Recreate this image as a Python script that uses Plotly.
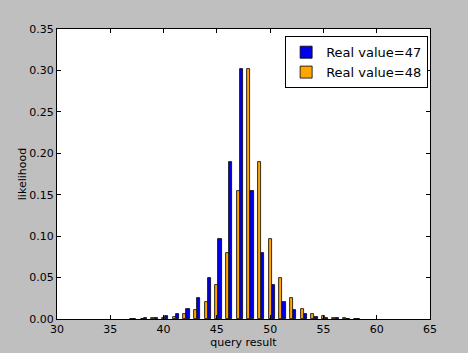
import plotly.graph_objects as go

values = list(range(37, 59))
p47 = [0.0006, 0.001, 0.0018, 0.0034, 0.0064, 0.0125, 0.0255, 0.050, 0.097, 0.189, 0.302,
       0.1545, 0.080, 0.041, 0.021, 0.0113, 0.0056, 0.0029, 0.0015, 0.0008, 0.0004, 0.0002]
p48 = [0.0002, 0.0004, 0.0008, 0.0015, 0.0029, 0.0056, 0.0113, 0.021, 0.041, 0.080, 0.1545,
       0.302, 0.189, 0.097, 0.050, 0.0255, 0.0125, 0.0064, 0.0034, 0.0018, 0.001, 0.0006]
x_ticks = [30, 35, 40, 45, 50, 55, 60, 65]
y_ticks = [0.0, 0.05, 0.10, 0.15, 0.20, 0.25, 0.30, 0.35]

fig = go.Figure()
fig.add_trace(go.Bar(x=values, y=p47, width=0.3, offset=0.15, name="Real value=47",
                     marker=dict(color="#0000ee", line=dict(color="black", width=0.8))))
fig.add_trace(go.Bar(x=values, y=p48, width=0.3, offset=-0.15, name="Real value=48",
                     marker=dict(color="#ffa500", line=dict(color="black", width=0.8))))

axis_common = dict(showgrid=False, zeroline=False, showline=True, linecolor="black", linewidth=1,
                   mirror="ticks", ticks="inside", ticklen=4, tickcolor="black", automargin=False,
                   tickfont=dict(size=11, color="black"))
fig.update_layout(
    width=468, height=353,
    margin=dict(l=57, r=38, t=29, b=34),
    paper_bgcolor="#bfbfbf", plot_bgcolor="white",
    font=dict(family="DejaVu Sans", color="black"),
    barmode="overlay", bargap=0,
    xaxis=dict(range=[30, 65], tickvals=x_ticks, ticktext=[str(t) for t in x_ticks],
               title=dict(text="query result", font=dict(size=11), standoff=1), **axis_common),
    yaxis=dict(range=[0, 0.35], tickvals=y_ticks, ticktext=[f"{t:.2f}" for t in y_ticks],
               title=dict(text="likelihood", font=dict(size=11), standoff=0), **axis_common),
    legend=dict(x=0.995, y=0.975, xanchor="right", yanchor="top", bgcolor="white",
                bordercolor="black", borderwidth=1, font=dict(size=13)),
)
fig.write_html("out.html")
